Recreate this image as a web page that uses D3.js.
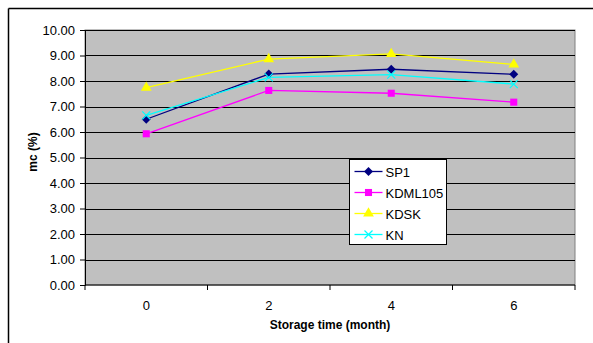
<!DOCTYPE html>
<html>
<head>
<meta charset="utf-8">
<script src="https://cdn.jsdelivr.net/npm/d3@7"></script>
<style>
    body { margin: 0; background: #fff; }
    svg { display: block; font-family: 'Liberation Sans', Arial, sans-serif; }
</style>
</head>
<body>
<div id="chart"></div>
<script>
// Chart data
const months = ["0", "2", "4", "6"];
const yTicks = [0, 1, 2, 3, 4, 5, 6, 7, 8, 9, 10];
const seriesNames = ["SP1", "KDML105", "KDSK", "KN"];
const sp1 = [6.50, 8.27, 8.46, 8.26];
const kdml105 = [5.93, 7.63, 7.52, 7.17];
const kdsk = [7.74, 8.86, 9.06, 8.65];
const kn = [6.65, 8.14, 8.25, 7.88];

const seriesColors = ["#000080", "#ff00ff", "#ffff00", "#00ffff"];
const seriesSymbols = ["diamond", "square", "triangle", "cross"];

const width = 593, height = 343;
const margin = { top: 30, right: 18, bottom: 58, left: 85 };
const plotW = width - margin.left - margin.right;
const plotH = height - margin.top - margin.bottom;

const svg = d3.select("#chart")
    .append("svg")
    .attr("width", width)
    .attr("height", height);

// Outer frame: only top and left edges visible
svg.append("line").attr("x1", 8.5).attr("y1", 8.5).attr("x2", width).attr("y2", 8.5)
    .attr("stroke", "#000").attr("stroke-width", 1.5);
svg.append("line").attr("x1", 8.5).attr("y1", 8.5).attr("x2", 8.5).attr("y2", height)
    .attr("stroke", "#000").attr("stroke-width", 1.5);

const g = svg.append("g")
    .attr("transform", `translate(${margin.left},${margin.top})`);

const x = d3.scaleBand().domain(months).range([0, plotW]);
const y = d3.scaleLinear().domain([0, 10]).range([plotH, 0]);

// Plot background
g.append("rect")
    .attr("width", plotW)
    .attr("height", plotH)
    .attr("fill", "#c0c0c0")
    .attr("stroke", "#808080");

// Gridlines
g.selectAll(".grid")
    .data(yTicks.slice(1))
    .enter()
    .append("line")
    .attr("x1", 0).attr("x2", plotW)
    .attr("y1", d => Math.round(y(d)) + 0.5)
    .attr("y2", d => Math.round(y(d)) + 0.5)
    .attr("stroke", "#000");

// Y axis
const yAxis = g.append("g")
    .call(d3.axisLeft(y).tickValues(yTicks).tickSize(5).tickPadding(5).tickFormat(d3.format(".2f")));
yAxis.select(".domain").attr("stroke", "#000");
yAxis.selectAll("text").style("font-size", "13px").attr("fill", "#000");

// X axis with ticks between categories
const xAxis = g.append("g").attr("transform", `translate(0,${plotH})`);
xAxis.append("line").attr("x1", 0).attr("x2", plotW).attr("stroke", "#000");
xAxis.selectAll(".tk")
    .data(d3.range(months.length + 1))
    .enter()
    .append("line")
    .attr("x1", i => i * x.bandwidth()).attr("x2", i => i * x.bandwidth())
    .attr("y1", 0).attr("y2", 5)
    .attr("stroke", "#000");
xAxis.selectAll(".lbl")
    .data(months)
    .enter()
    .append("text")
    .attr("x", d => x(d) + x.bandwidth() / 2)
    .attr("y", 25)
    .attr("text-anchor", "middle")
    .style("font-size", "13px")
    .text(d => d);

// Axis titles
svg.append("text")
    .attr("x", margin.left + plotW / 2)
    .attr("y", 329)
    .attr("text-anchor", "middle")
    .style("font-size", "12px")
    .style("font-weight", "bold")
    .text("Storage time (month)");

svg.append("text")
    .attr("transform", `translate(37,152) rotate(-90)`)
    .attr("text-anchor", "middle")
    .style("font-size", "12px")
    .style("font-weight", "bold")
    .text("mc (%)");

// Marker helper
function drawMarker(sel, type, color) {
    if (type === "cross") {
        sel.append("path")
            .attr("d", "M-4,-4L4,4M-4,4L4,-4")
            .attr("stroke", color)
            .attr("stroke-width", 1.2)
            .attr("fill", "none");
    } else if (type === "diamond") {
        sel.append("path")
            .attr("d", "M0,-4.5L4.5,0L0,4.5L-4.5,0Z")
            .attr("fill", color);
    } else {
        const sym = { square: d3.symbolSquare, triangle: d3.symbolTriangle }[type];
        sel.append("path")
            .attr("d", d3.symbol().type(sym).size(50)())
            .attr("fill", color);
    }
}

const allSeries = [sp1, kdml105, kdsk, kn];
const line = d3.line()
    .x((d, i) => x(months[i]) + x.bandwidth() / 2)
    .y(d => y(d));

// Lines
allSeries.forEach((vals, s) => {
    g.append("path")
        .datum(vals)
        .attr("d", line)
        .attr("fill", "none")
        .attr("stroke", seriesColors[s])
        .attr("stroke-width", 1.3);
});

// Markers drawn on top
allSeries.forEach((vals, s) => {
    vals.forEach((v, i) => {
        const m = g.append("g")
            .attr("transform", `translate(${x(months[i]) + x.bandwidth() / 2},${y(v)})`);
        drawMarker(m, seriesSymbols[s], seriesColors[s]);
    });
});

// Legend
const legend = svg.append("g").attr("transform", "translate(349.5,159.5)");
legend.append("rect")
    .attr("width", 97)
    .attr("height", 85)
    .attr("fill", "#fff")
    .attr("stroke", "#000");

seriesNames.forEach((name, s) => {
    const yy = 12 + s * 21;
    legend.append("line")
        .attr("x1", 5).attr("x2", 33)
        .attr("y1", yy).attr("y2", yy)
        .attr("stroke", seriesColors[s])
        .attr("stroke-width", 1.3);
    const m = legend.append("g").attr("transform", `translate(19,${yy})`);
    drawMarker(m, seriesSymbols[s], seriesColors[s]);
    legend.append("text")
        .attr("x", 36)
        .attr("y", yy + 5)
        .style("font-size", "13px")
        .text(name);
});
</script>
</body>
</html>
